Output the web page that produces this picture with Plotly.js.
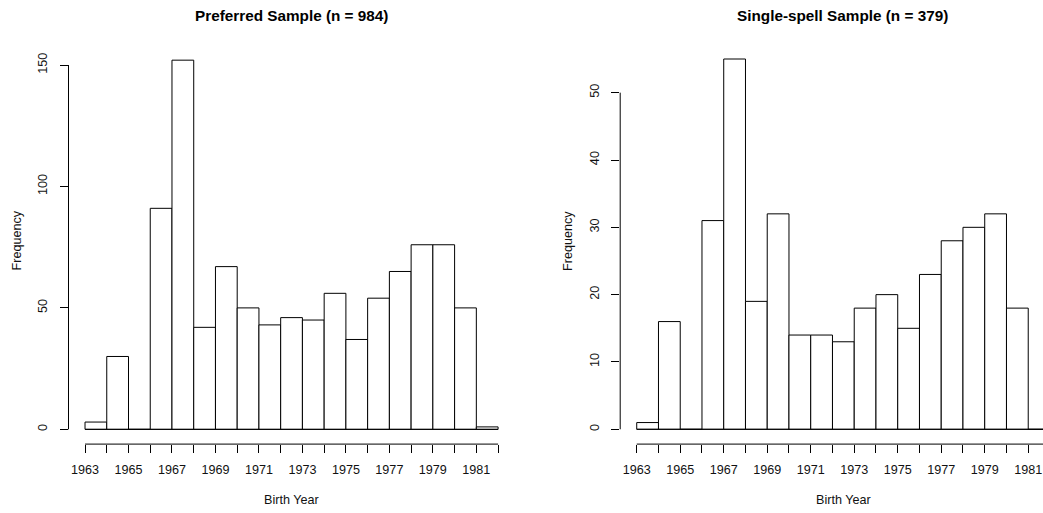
<!DOCTYPE html>
<html>
<head>
<meta charset="utf-8">
<script src="https://cdn.plot.ly/plotly-3.0.1.min.js"></script>
<style>
  html, body { margin: 0; padding: 0; background: #fff; }
  #chart { width: 1043px; height: 513px; }
</style>
</head>
<body>
<div id="chart"></div>
<script>
// Birth-year histograms, one-year bins [start, start + 1)
const binStarts = [1963, 1964, 1965, 1966, 1967, 1968, 1969, 1970, 1971, 1972,
                   1973, 1974, 1975, 1976, 1977, 1978, 1979, 1980, 1981];
const preferredCounts   = [3, 30, 0, 91, 152, 42, 67, 50, 43, 46, 45, 56, 37, 54, 65, 76, 76, 50, 1];
const singleSpellCounts = [1, 16, 0, 31, 55, 19, 32, 14, 14, 13, 18, 20, 15, 23, 28, 30, 32, 18, 0];

const tickYears = [1963, 1964, 1965, 1966, 1967, 1968, 1969, 1970, 1971, 1972,
                   1973, 1974, 1975, 1976, 1977, 1978, 1979, 1980, 1981, 1982];
const tickLabels = ['1963', '', '1965', '', '1967', '', '1969', '', '1971', '',
                    '1973', '', '1975', '', '1977', '', '1979', '', '1981', ''];

const preferredYTicks = [0, 50, 100, 150];
const singleSpellYTicks = [0, 10, 20, 30, 40, 50];

const titles = ['Preferred Sample (n = 984)', 'Single-spell Sample (n = 379)'];
const xTitle = 'Birth Year';
const yTitle = 'Frequency';

const FONT = 'Liberation Sans, Arial, Helvetica, sans-serif';
const INK = '#000';
const TXT = '#111';
const LABEL_SIZE = 12.6;
const TITLE_SIZE = 15.3;
const W = 1043, H = 513;

const binWidth = binStarts[1] - binStarts[0];
const lastEdge = binStarts[binStarts.length - 1] + binWidth;

function barTrace(counts, xa, ya) {
  return {
    type: 'bar',
    x: binStarts, y: counts,
    width: binWidth, offset: 0,
    xaxis: xa, yaxis: ya,
    marker: { color: '#fff', line: { color: INK, width: 1 } },
    hoverinfo: 'x+y', showlegend: false
  };
}
// histogram base line (visible under empty bins)
function baseTrace(xa, ya) {
  return {
    type: 'scatter', mode: 'lines',
    x: [binStarts[0], lastEdge], y: [0, 0],
    xaxis: xa, yaxis: ya,
    line: { color: INK, width: 1 },
    hoverinfo: 'skip', showlegend: false
  };
}

// R-style padding: 4% of the data range on each side
function padded(lo, hi) { const d = (hi - lo) * 0.04; return [lo - d, hi + d]; }
const xr = padded(binStarts[0], lastEdge);
const yrL = padded(0, Math.max(...preferredCounts));
const yrR = padded(0, Math.max(...singleSpellCounts));

const pxPerYear = 21.75;
const rightRange = [xr[0], xr[0] + (W - 620.2) / pxPerYear];

function xAxis(domain, range, anchor) {
  return {
    domain: domain, range: range, anchor: anchor,
    showgrid: false, zeroline: false, showline: false,
    tickmode: 'array', tickvals: tickYears, ticktext: tickLabels,
    ticks: 'outside', ticklen: 8, tickwidth: 1, tickcolor: INK,
    ticklabelstandoff: 6,
    tickfont: { family: FONT, size: LABEL_SIZE, color: TXT }
  };
}
function yAxis(domain, range, anchor, vals) {
  return {
    domain: domain, range: range, anchor: anchor,
    showgrid: false, zeroline: false, showline: false,
    tickmode: 'array', tickvals: vals, ticktext: vals.map(String),
    ticks: 'outside', ticklen: 8, tickwidth: 1, tickcolor: INK,
    tickangle: -90, ticklabelstandoff: 7,
    tickfont: { family: FONT, size: LABEL_SIZE, color: TXT }
  };
}

function axisLines(xa, ya, yTop) {
  return [
    { type: 'line', xref: xa, yref: ya + ' domain', x0: binStarts[0], x1: lastEdge, y0: 0, y1: 0,
      line: { color: INK, width: 1 } },
    { type: 'line', xref: xa + ' domain', yref: ya, x0: 0, x1: 0, y0: 0, y1: yTop,
      line: { color: INK, width: 1 } }
  ];
}

function ann(text, x, y, opts) {
  return Object.assign({
    text: text, xref: 'paper', yref: 'paper', x: x, y: y,
    xanchor: 'center', yanchor: 'middle', showarrow: false,
    font: { family: FONT, size: LABEL_SIZE, color: TXT }
  }, opts || {});
}
const titleFont = { family: FONT, size: TITLE_SIZE, color: INK, weight: 'bold' };

const layout = {
  width: W, height: H,
  margin: { l: 0, r: 0, t: 0, b: 0 },
  paper_bgcolor: '#fff', plot_bgcolor: '#fff',
  xaxis:  xAxis([68.5 / W, 514.6 / W], xr, 'y'),
  yaxis:  yAxis([1 - 444.1 / H, 1 - 45.4 / H], yrL, 'x', preferredYTicks),
  xaxis2: xAxis([620.2 / W, 1], rightRange, 'y2'),
  yaxis2: yAxis([1 - 444.1 / H, 1 - 44.2 / H], yrR, 'x2', singleSpellYTicks),
  shapes: axisLines('x', 'y', preferredYTicks[preferredYTicks.length - 1])
    .concat(axisLines('x2', 'y2', singleSpellYTicks[singleSpellYTicks.length - 1])),
  annotations: [
    ann(titles[0], 291.3 / W, 1 - 15.5 / H, { font: titleFont }),
    ann(titles[1], 842.7 / W, 1 - 15.5 / H, { font: titleFont }),
    ann(xTitle, 291.3 / W, 1 - 499.5 / H),
    ann(xTitle, 843 / W, 1 - 499.5 / H),
    ann(yTitle, 16.5 / W, 1 - 241 / H, { textangle: -90 }),
    ann(yTitle, 568 / W, 1 - 241 / H, { textangle: -90 })
  ]
};

const data = [
  barTrace(preferredCounts, 'x', 'y'), baseTrace('x', 'y'),
  barTrace(singleSpellCounts, 'x2', 'y2'), baseTrace('x2', 'y2')
];

Plotly.newPlot('chart', data, layout, { displayModeBar: false, staticPlot: true });
</script>
</body>
</html>
